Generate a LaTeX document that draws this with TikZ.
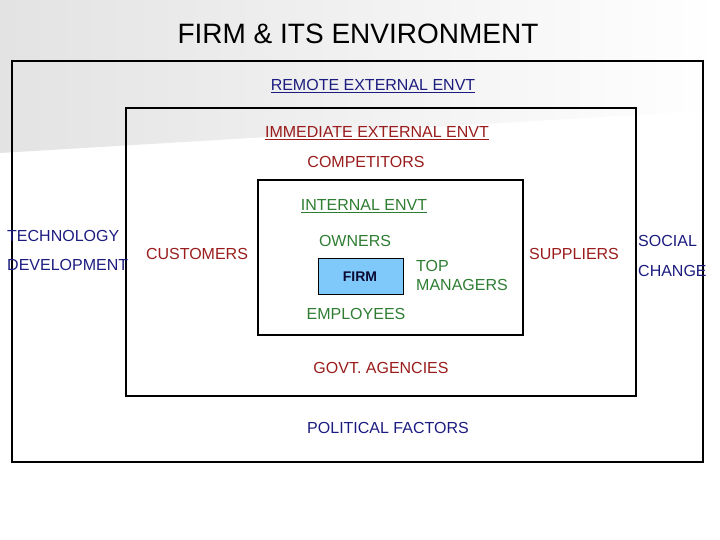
\documentclass[tikz,border=0pt]{standalone}
\usepackage{fontspec}
\setmainfont{Liberation Sans}
\definecolor{navy}{HTML}{1C1C80}
\definecolor{dred}{HTML}{9A1C1C}
\definecolor{dgreen}{HTML}{2E7D32}
\definecolor{firmblue}{HTML}{7EC8FA}
\begin{document}
\begin{tikzpicture}[x=1pt,y=-1pt,
  envbox/.style={draw=black,line width=1.3pt},
  lbl/.style={inner sep=0pt,anchor=base,font=\fontsize{16}{18}\selectfont},
  lblw/.style={lbl,anchor=base west}]
\useasboundingbox (0,0) rectangle (720,540);
\shade[left color=black!11,right color=white] (0,0) -- (720,0) -- (720,110) -- (0,153) -- cycle;
% boxes
\draw[envbox] (12,61) rectangle (703,462);
\draw[envbox] (126,108) rectangle (636,396);
\draw[envbox] (258,180) rectangle (523,335);
\node[draw=black,line width=1pt,fill=firmblue,minimum width=85pt,minimum height=36pt,inner sep=0pt] (firm) at (360.5,276) {};
\node[inner sep=0pt,anchor=base,font=\fontsize{14}{16}\selectfont\bfseries,text=navy!40!black] (firmt) at (360,281) {FIRM};
% title
\node[inner sep=0pt,anchor=base,font=\fontsize{28}{30}\selectfont] (title) at (358,44) {FIRM \& ITS ENVIRONMENT};
% labels
\node[lbl,text=navy] (remote) at (373,91) {\underline{REMOTE EXTERNAL ENVT}};
\node[lbl,text=dred] (imm) at (377,138) {\underline{IMMEDIATE EXTERNAL ENVT}};
\node[lbl,text=dred] (comp) at (366,168) {COMPETITORS};
\node[lbl,text=dgreen] (internal) at (364,211) {\underline{INTERNAL ENVT}};
\node[lbl,text=dgreen] (owners) at (355,246) {OWNERS};
\node[lblw,text=dgreen] (top) at (416,271) {TOP};
\node[lblw,text=dgreen] (mgr) at (416,290) {MANAGERS};
\node[lbl,text=dgreen] (emp) at (356,319) {EMPLOYEES};
\node[lbl,text=dred] (govt) at (381,373) {GOVT. AGENCIES};
\node[lbl,text=navy] (pol) at (388,433) {POLITICAL FACTORS};
\node[lblw,text=navy] (tech) at (7,241) {TECHNOLOGY};
\node[lblw,text=navy] (dev) at (7,270) {DEVELOPMENT};
\node[lbl,text=dred] (cust) at (197,259) {CUSTOMERS};
\node[lbl,text=dred] (supp) at (574,259) {SUPPLIERS};
\node[lblw,text=navy] (social) at (638,247) {SOCIAL};
\node[lblw,text=navy] (change) at (638,276) {CHANGE};
\end{tikzpicture}
\end{document}
